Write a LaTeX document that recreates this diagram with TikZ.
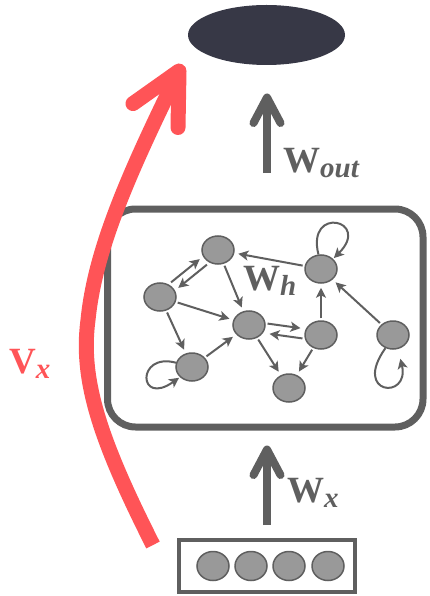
\documentclass[tikz,border=0pt]{standalone}
\usepackage{fontspec}
\newfontfamily\labfont{Liberation Serif}
\usetikzlibrary{arrows.meta,shapes.geometric,calc}
\definecolor{gcol}{HTML}{5F5F5F}
\definecolor{ncol}{HTML}{999999}
\definecolor{rcol}{HTML}{FF5457}
\definecolor{ocol}{HTML}{373846}
\newcommand\mysub[1]{\raisebox{-5pt}{\fontsize{29}{30}\selectfont\itshape #1}}
\begin{document}
\begin{tikzpicture}[x=1pt,y=-1pt,
  rnode/.style={ellipse, draw=gcol, fill=ncol, line width=1.5pt, minimum width=32pt, minimum height=28pt, inner sep=0pt},
  edge/.style={draw=gcol, line width=2pt, -{Stealth[length=10pt,width=10pt,inset=2.5pt]}, shorten <=2pt, shorten >=4pt},
  bigarr/.style={draw=gcol, line width=8pt},
  redarr/.style={draw=rcol, line width=15pt},
  lab/.style={font=\labfont\fontsize{37}{40}\selectfont\bfseries, text=gcol, inner sep=0pt, anchor=base west}]
\useasboundingbox (0,0) rectangle (429,596);
% output
\node[ellipse, fill=ocol, minimum width=157pt, minimum height=60pt, inner sep=0pt] (out) at (266.5,35) {};
% reservoir box
\node[draw=gcol, line width=7pt, rounded corners=28pt, minimum width=315.5pt, minimum height=218pt, inner sep=0pt] (res) at (265.25,318) {};
% input box
\node[draw=gcol, line width=4pt, minimum width=176pt, minimum height=52pt, inner sep=0pt] (inp) at (267,566) {};
\node[rnode, minimum height=29pt] (i1) at (213,566) {};
\node[rnode, minimum height=29pt] (i2) at (251,566) {};
\node[rnode, minimum height=29pt] (i3) at (289,566) {};
\node[rnode, minimum height=29pt] (i4) at (328,566) {};
% reservoir nodes
\node[rnode] (A) at (218,250) {};
\node[rnode] (B) at (160,297) {};
\node[rnode] (C) at (249,325) {};
\node[rnode] (D) at (321,269) {};
\node[rnode] (E) at (321,335) {};
\node[rnode] (F) at (393,335) {};
\node[rnode] (G) at (192,367) {};
\node[rnode] (H) at (289,388) {};
% reservoir edges
\draw[edge, transform canvas={shift={(-2.8,-3.4)}}] (B) -- (A);
\draw[edge, transform canvas={shift={(2.8,3.4)}}] (A) -- (B);
\draw[edge] (A) -- (C);
\draw[edge] (B) -- (C);
\draw[edge] (B) -- (G);
\draw[edge] (G) -- (C);
\draw[edge, transform canvas={shift={(0,-4)}}] (C) -- (E);
\draw[edge, transform canvas={shift={(0,6)}}] (E) -- (C);
\draw[edge] (C) -- (H);
\draw[edge] (E) -- (H);
\draw[edge] (E) -- (D);
\draw[edge] (D) -- (A);
\draw[edge] (F) -- (D);
\draw[edge, shorten <=0pt, shorten >=1pt] (G.165) .. controls (136,352) and (138,407) .. (G.220);
\draw[edge, shorten <=0pt, shorten >=1pt] (D.100) .. controls (306,205) and (372,220) .. (D.40);
\draw[edge, shorten <=0pt, shorten >=10pt] (F.240) .. controls (352,395) and (410,400) .. (F.290);
% labels
\node[lab] (wh) at (243,290) {W\mysub{h}};
\node[lab] (wout) at (283,172) {W\mysub{out}};
\node[lab] (wx) at (287,502) {W\mysub{x}};
\node[lab, text=rcol] (vx) at (9,373) {V\mysub{x}};
% big gray arrows
\coordinate (woS) at (267,173);
\coordinate (woT) at (267,97.5);
\draw[bigarr] (woS) -- (woT);
\draw[bigarr, line cap=round, line join=round] ($(woT)+(-13.5,25.5)$) -- (woT) -- ($(woT)+(13.5,25.5)$);
\coordinate (wxS) at (267,525);
\coordinate (wxT) at (267,449.5);
\draw[bigarr] (wxS) -- (wxT);
\draw[bigarr, line cap=round, line join=round] ($(wxT)+(-13.5,25.5)$) -- (wxT) -- ($(wxT)+(13.5,25.5)$);
% red skip arrow
\coordinate (vS) at (153,545);
\coordinate (vT) at (179,71);
\draw[redarr] (vS) .. controls (100,440) and (80,380) .. (88,320) .. controls (95,250) and (128,175) .. (vT);
\draw[redarr, line cap=round, line join=round] (133,103.6) -- (vT) -- (178,127.5);
\end{tikzpicture}
\end{document}
